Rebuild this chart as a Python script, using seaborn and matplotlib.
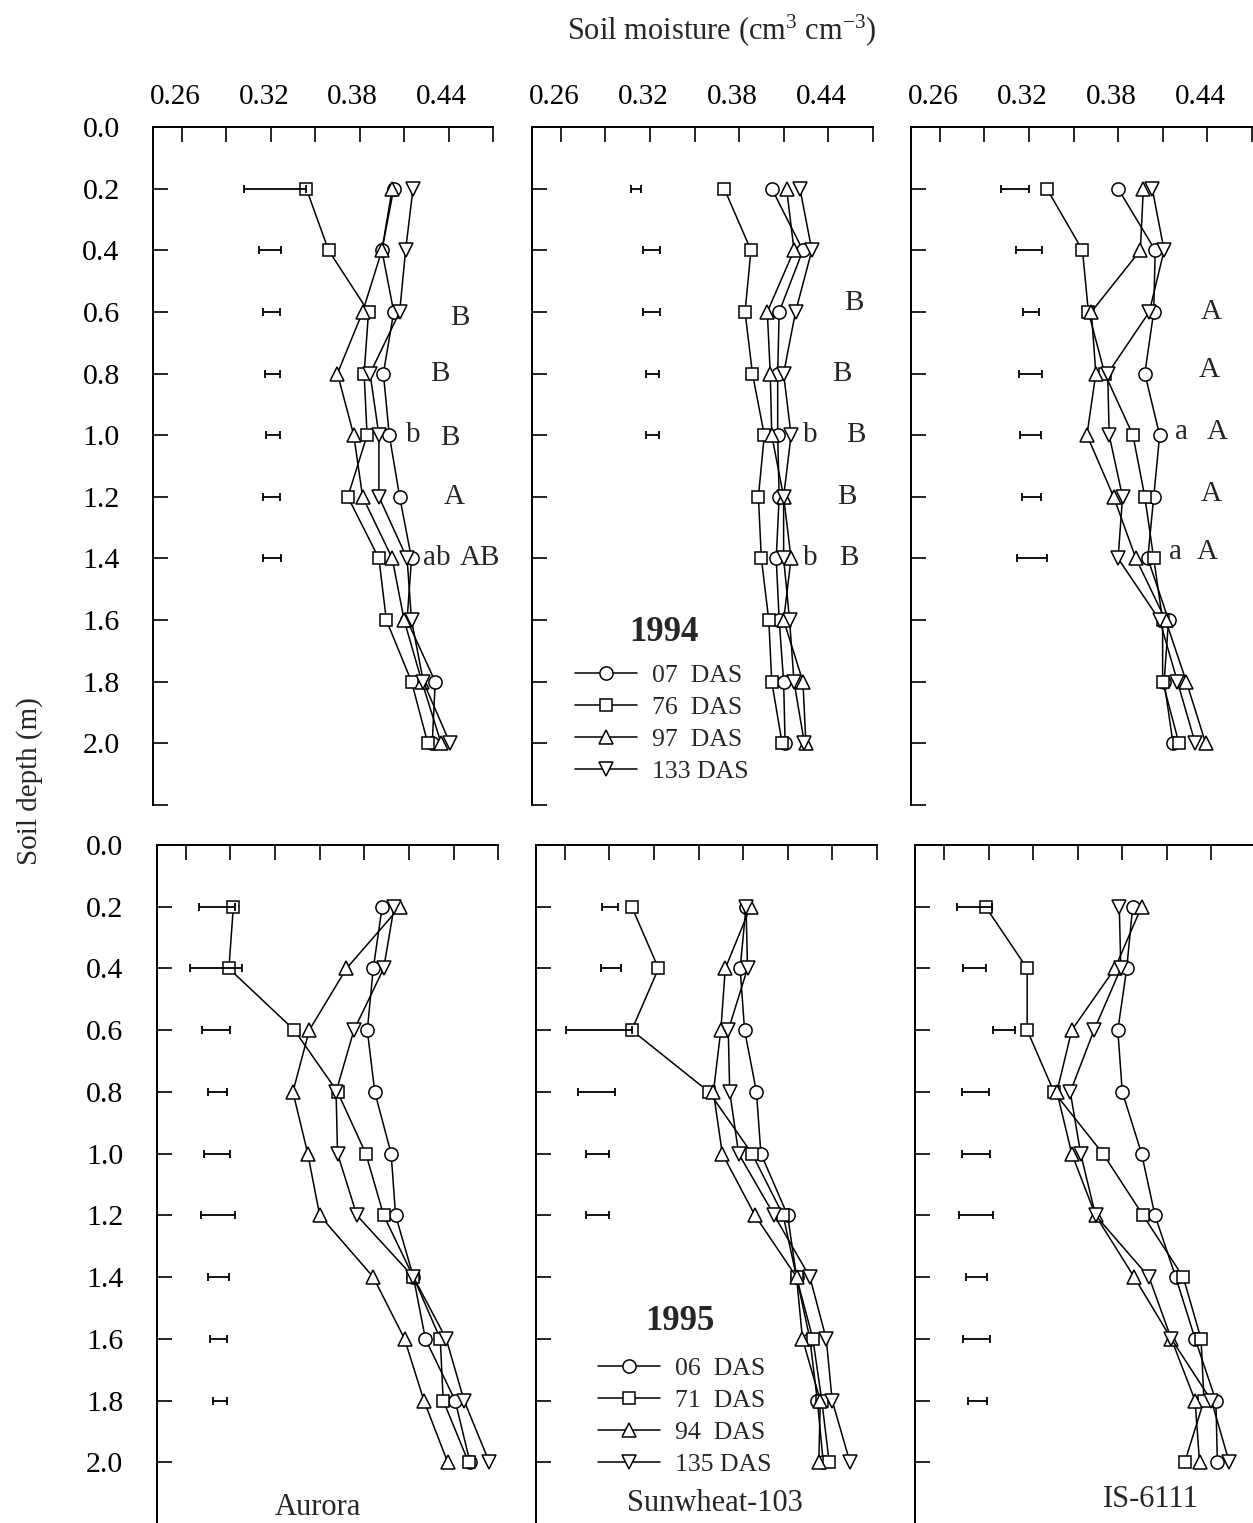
import numpy as np
import pandas as pd
import matplotlib
matplotlib.use("Agg")
import matplotlib.pyplot as plt
import seaborn as sns
from matplotlib.lines import Line2D
from matplotlib.transforms import ScaledTranslation

sns.set_theme(style="white")
plt.rcParams['font.family'] = ['Liberation Serif', 'DejaVu Serif']
plt.rcParams['mathtext.fontset'] = 'custom'
plt.rcParams['mathtext.rm'] = 'Liberation Serif'
plt.rcParams['mathtext.it'] = 'Liberation Serif:italic'
plt.rcParams['mathtext.bf'] = 'Liberation Serif:bold'

# ---------------- data ----------------
depths = [0.2, 0.4, 0.6, 0.8, 1.0, 1.2, 1.4, 1.6, 1.8, 2.0]
labels_1994 = ["07  DAS", "76  DAS", "97  DAS", "133 DAS"]
labels_1995 = ["06  DAS", "71  DAS", "94  DAS", "135 DAS"]
cultivars = ["Aurora", "Sunwheat-103", "IS-6111"]

# 1994 - Aurora
aur94_d07 = [0.403, 0.395, 0.403, 0.396, 0.400, 0.407, 0.415, 0.412, 0.431, 0.429]
aur94_d76 = [0.344, 0.359, 0.386, 0.383, 0.385, 0.372, 0.393, 0.398, 0.415, 0.426]
aur94_d97 = [0.402, 0.395, 0.382, 0.365, 0.376, 0.382, 0.402, 0.410, 0.422, 0.435]
aur94_d133 = [0.416, 0.411, 0.407, 0.387, 0.393, 0.393, 0.412, 0.415, 0.423, 0.441]
aur94_lsd_lo = [0.302, 0.312, 0.315, 0.316, 0.317, 0.315, 0.315]
aur94_lsd_hi = [0.344, 0.327, 0.326, 0.326, 0.326, 0.326, 0.327]

# 1994 - Sunwheat-103
sun94_d07 = [0.402, 0.423, 0.407, 0.406, 0.406, 0.407, 0.405, 0.407, 0.410, 0.411]
sun94_d76 = [0.370, 0.388, 0.384, 0.389, 0.397, 0.393, 0.395, 0.400, 0.402, 0.409]
sun94_d97 = [0.412, 0.417, 0.399, 0.401, 0.402, 0.410, 0.415, 0.410, 0.423, 0.425]
sun94_d133 = [0.421, 0.429, 0.418, 0.410, 0.415, 0.410, 0.410, 0.414, 0.417, 0.424]
sun94_lsd_lo = [0.307, 0.315, 0.315, 0.317, 0.317]
sun94_lsd_hi = [0.314, 0.327, 0.327, 0.326, 0.326]

# 1994 - IS-6111
is94_d07 = [0.380, 0.405, 0.404, 0.398, 0.408, 0.404, 0.400, 0.414, 0.411, 0.417]
is94_d76 = [0.332, 0.356, 0.360, 0.371, 0.390, 0.398, 0.404, 0.410, 0.410, 0.421]
is94_d97 = [0.397, 0.395, 0.362, 0.365, 0.359, 0.377, 0.392, 0.412, 0.426, 0.439]
is94_d133 = [0.403, 0.411, 0.401, 0.373, 0.374, 0.383, 0.380, 0.408, 0.420, 0.432]
is94_lsd_lo = [0.301, 0.311, 0.316, 0.313, 0.314, 0.315, 0.312]
is94_lsd_hi = [0.320, 0.329, 0.327, 0.329, 0.328, 0.328, 0.332]

# 1995 - Aurora
aur95_d06 = [0.392, 0.386, 0.382, 0.387, 0.398, 0.401, 0.413, 0.421, 0.441, 0.451]
aur95_d71 = [0.292, 0.289, 0.333, 0.362, 0.381, 0.393, 0.413, 0.431, 0.433, 0.450]
aur95_d94 = [0.404, 0.368, 0.343, 0.332, 0.342, 0.350, 0.386, 0.407, 0.420, 0.436]
aur95_d135 = [0.400, 0.393, 0.373, 0.361, 0.362, 0.375, 0.413, 0.435, 0.447, 0.464]
aur95_lsd_lo = [0.269, 0.263, 0.271, 0.275, 0.272, 0.270, 0.275, 0.276, 0.278]
aur95_lsd_hi = [0.293, 0.298, 0.290, 0.288, 0.290, 0.293, 0.289, 0.288, 0.288]

# 1995 - Sunwheat-103
sun95_d06 = [0.382, 0.378, 0.381, 0.389, 0.392, 0.410, 0.416, 0.425, 0.430, 0.434]
sun95_d71 = [0.305, 0.323, 0.305, 0.357, 0.386, 0.407, 0.416, 0.427, 0.433, 0.438]
sun95_d94 = [0.385, 0.368, 0.365, 0.360, 0.366, 0.388, 0.416, 0.420, 0.432, 0.431]
sun95_d135 = [0.382, 0.383, 0.370, 0.371, 0.377, 0.401, 0.425, 0.436, 0.440, 0.452]
sun95_lsd_lo = [0.285, 0.284, 0.261, 0.269, 0.274, 0.274]
sun95_lsd_hi = [0.296, 0.298, 0.305, 0.294, 0.290, 0.290]

# 1995 - IS-6111
is95_d06 = [0.387, 0.383, 0.377, 0.380, 0.393, 0.402, 0.416, 0.429, 0.443, 0.444]
is95_d71 = [0.288, 0.316, 0.316, 0.334, 0.367, 0.394, 0.421, 0.433, 0.435, 0.422]
is95_d94 = [0.393, 0.375, 0.346, 0.336, 0.346, 0.362, 0.388, 0.413, 0.429, 0.432]
is95_d135 = [0.378, 0.379, 0.361, 0.345, 0.352, 0.362, 0.398, 0.413, 0.440, 0.452]
is95_lsd_lo = [0.269, 0.273, 0.293, 0.272, 0.272, 0.270, 0.275, 0.273, 0.276]
is95_lsd_hi = [0.292, 0.288, 0.308, 0.290, 0.291, 0.293, 0.289, 0.291, 0.289]

# significance letters (1994 panels)
aur94_let_text = ["B", "B", "b", "B", "A", "ab", "AB"]
aur94_let_depth = [0.62, 0.80, 1.00, 1.01, 1.20, 1.40, 1.40]
aur94_let_x = [0.4477, 0.4342, 0.4161, 0.4410, 0.4437, 0.4320, 0.4612]
sun94_let_text = ["B", "B", "b", "B", "B", "b", "B"]
sun94_let_depth = [0.57, 0.80, 1.00, 1.00, 1.20, 1.40, 1.40]
sun94_let_x = [0.4574, 0.4495, 0.4281, 0.4585, 0.4525, 0.4281, 0.4540]
is94_let_text = ["A", "A", "a", "A", "A", "a", "A"]
is94_let_depth = [0.60, 0.79, 0.99, 0.99, 1.19, 1.38, 1.38]
is94_let_x = [0.4430, 0.4416, 0.4227, 0.4468, 0.4430, 0.4186, 0.4400]

markers = ["o", "s", "^", "v"]
msizes = [9.5, 9, 10, 10]

# ---------------- figure ----------------
W, H = 1253, 1523
fig = plt.figure(figsize=(W / 100, H / 100), dpi=100)

def px_rect(x0, y0, x1, y1):
    return [x0 / W, 1 - y1 / H, (x1 - x0) / W, (y1 - y0) / H]

panels = [
    dict(rect=px_rect(153, 127, 493, 805), series=[aur94_d07, aur94_d76, aur94_d97, aur94_d133],
         lo=aur94_lsd_lo, hi=aur94_lsd_hi, lt=aur94_let_text, ld=aur94_let_depth, lx=aur94_let_x,
         top_labels=True, left_labels=True),
    dict(rect=px_rect(532, 127, 872.7, 805), series=[sun94_d07, sun94_d76, sun94_d97, sun94_d133],
         lo=sun94_lsd_lo, hi=sun94_lsd_hi, lt=sun94_let_text, ld=sun94_let_depth, lx=sun94_let_x,
         top_labels=True, left_labels=False,
         legend=(labels_1994, "1994", (575, 664), (664, 632))),
    dict(rect=px_rect(911, 127, 1251.7, 805), series=[is94_d07, is94_d76, is94_d97, is94_d133],
         lo=is94_lsd_lo, hi=is94_lsd_hi, lt=is94_let_text, ld=is94_let_depth, lx=is94_let_x,
         top_labels=True, left_labels=False),
    dict(rect=px_rect(156.7, 845, 498.3, 1524), series=[aur95_d06, aur95_d71, aur95_d94, aur95_d135],
         lo=aur95_lsd_lo, hi=aur95_lsd_hi, top_labels=False, left_labels=True,
         name=(cultivars[0], 0.349, 2.146)),
    dict(rect=px_rect(536, 845, 876.7, 1524), series=[sun95_d06, sun95_d71, sun95_d94, sun95_d135],
         lo=sun95_lsd_lo, hi=sun95_lsd_hi, top_labels=False, left_labels=False,
         legend=(labels_1995, "1995", (598, 1357), (680, 1321)), name=(cultivars[1], 0.361, 2.133)),
    dict(rect=px_rect(915, 845, 1256, 1524), series=[is95_d06, is95_d71, is95_d94, is95_d135],
         lo=is95_lsd_lo, hi=is95_lsd_hi, top_labels=False, left_labels=False,
         name=(cultivars[2], 0.399, 2.12)),
]

xticks = [0.26, 0.29, 0.32, 0.35, 0.38, 0.41, 0.44, 0.47]
xticklabels = ["0.26", "", "0.32", "", "0.38", "", "0.44", ""]
yticks = [0.0, 0.2, 0.4, 0.6, 0.8, 1.0, 1.2, 1.4, 1.6, 1.8, 2.0, 2.2]
yticklabels = ["%.1f" % v for v in yticks[:-1]] + [""]

for p in panels:
    ax = fig.add_axes(p["rect"])
    for vals, mk, ms in zip(p["series"], markers, msizes):
        df = pd.DataFrame({"moisture": vals, "depth": depths})
        sns.lineplot(data=df, x="moisture", y="depth", ax=ax, orient="y", sort=False,
                     estimator=None, color="black", marker=mk, markersize=ms,
                     markerfacecolor="white", markeredgecolor="black", markeredgewidth=1.1,
                     linewidth=1.1, legend=False)
    lo = np.array(p["lo"]); hi = np.array(p["hi"])
    ax.errorbar((lo + hi) / 2, depths[:len(lo)], xerr=(hi - lo) / 2, fmt="none",
                ecolor="black", elinewidth=1.3, capsize=3, capthick=1.3)
    if "lt" in p:
        for t, d, x in zip(p["lt"], p["ld"], p["lx"]):
            ax.text(x, d, t, ha="center", va="center", fontsize=21)
    if "name" in p:
        nm, nx, ny = p["name"]
        ax.text(nx, ny, nm, ha="center", va="center", fontsize=22)
    if "legend" in p:
        labs, title, (lx, ly), (tx, ty) = p["legend"]
        handles = [Line2D([], [], color="black", marker=mk, markersize=ms, markerfacecolor="white",
                          markeredgecolor="black", markeredgewidth=1.1, linewidth=1.1)
                   for mk, ms in zip(markers, msizes)]
        ax.legend(handles, labs, loc="upper left",
                  bbox_to_anchor=(lx / W, 1 - ly / H), bbox_transform=fig.transFigure,
                  frameon=False, borderpad=0, borderaxespad=0, fontsize=18.5,
                  handlelength=2.4, handletextpad=0.6, labelspacing=0.35)
        fig.text(tx / W, 1 - ty / H, title, ha="center", va="center",
                 fontsize=25, fontweight="bold")
    ax.set_xlim(0.2405, 0.47)
    ax.set_ylim(2.2, 0.0)
    ax.set_xlabel("")
    ax.set_ylabel("")
    ax.set_xticks(xticks)
    ax.set_xticklabels(xticklabels if p["top_labels"] else [""] * len(xticks))
    ax.set_yticks(yticks)
    ax.set_yticklabels(yticklabels if p["left_labels"] else [""] * len(yticks))
    ax.tick_params(axis="x", which="major", direction="in", top=True, bottom=False,
                   labeltop=p["top_labels"], labelbottom=False, length=11, width=1.2,
                   pad=12, labelsize=21, colors="black")
    ax.tick_params(axis="y", which="major", direction="in", left=True, right=False,
                   labelleft=p["left_labels"], length=11, width=1.2, pad=24,
                   labelsize=21.5, colors="black")
    for s in ["right", "bottom"]:
        ax.spines[s].set_visible(False)
    for s in ["left", "top"]:
        ax.spines[s].set_color("black")
        ax.spines[s].set_linewidth(1.4)
    ax.set_facecolor("white")
    off = ScaledTranslation(-7 / 100, 0, fig.dpi_scale_trans)
    for lab in ax.get_xticklabels():
        lab.set_transform(lab.get_transform() + off)

fig.text(722 / W, 1 - 30 / H, "Soil moisture (cm$^3$ cm$^{-3}$)", ha="center", va="center",
         fontsize=22)
fig.text(30 / W, 1 - 781 / H, "Soil depth (m)", rotation=90, ha="center", va="center",
         fontsize=21)

fig.savefig("out.png", dpi=100, facecolor="white")
